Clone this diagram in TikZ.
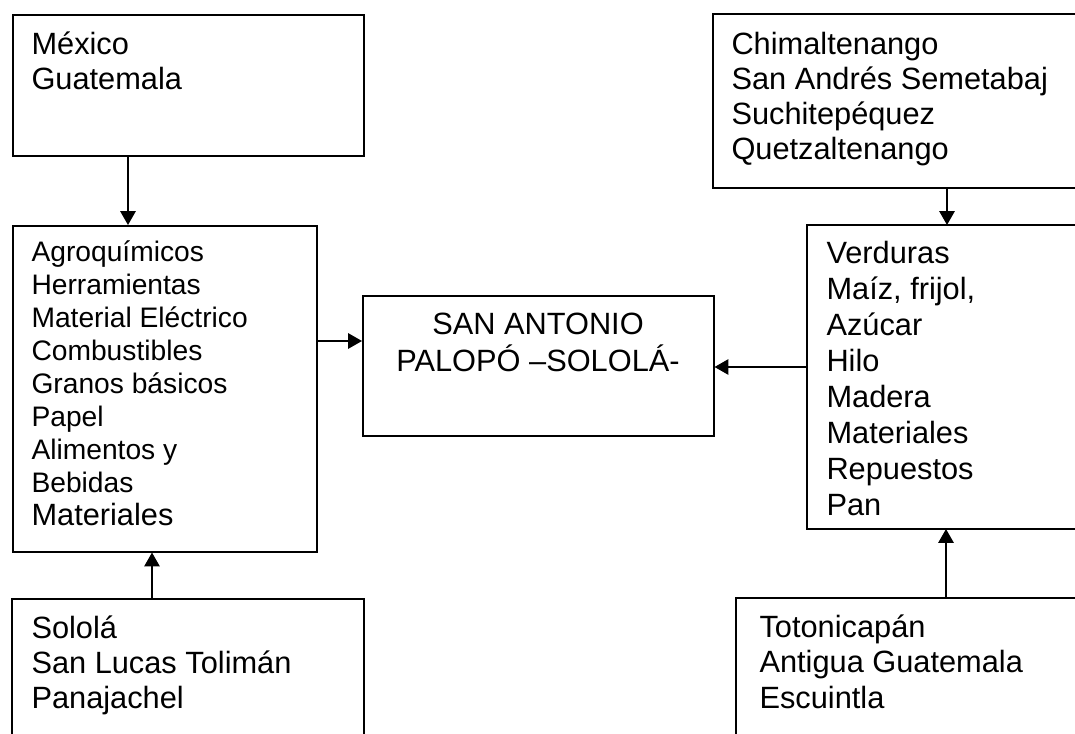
\documentclass[tikz,border=0pt]{standalone}
\usepackage{fontspec}
\setmainfont{Liberation Sans}
\usetikzlibrary{arrows.meta}
\newcommand\pxu{0.39pt}
\begin{document}
\begin{tikzpicture}[x=0.39pt,y=-0.39pt,
  box/.style={draw,line width=0.6pt,anchor=north west,inner sep=0pt},
  openbox/.style={anchor=north west,inner sep=0pt},
  edge/.style={line width=0.6pt},
  txt/.style={anchor=base west,inner sep=0pt},
  arr/.style={line width=0.6pt,-{Triangle[length=5.4pt,width=6pt]}}]
\useasboundingbox (0,0) rectangle (1075,733);
\fill[white] (0,0) rectangle (1075,733);
% boxes
\node[box,minimum width={351*\pxu},minimum height={141*\pxu}] (mex) at (12,14) {};
\node[box,minimum width={304*\pxu},minimum height={326*\pxu}] (agro) at (12,225) {};
\node[box,minimum width={351*\pxu},minimum height={140*\pxu}] (sap) at (362,295) {};
% boxes cut by the edges of the picture
\node[openbox,minimum width={351*\pxu},minimum height={134*\pxu}] (solo) at (12,599) {};
\node[openbox,minimum width={362*\pxu},minimum height={173*\pxu}] (chim) at (713,14) {};
\node[openbox,minimum width={268*\pxu},minimum height={303*\pxu}] (verd) at (807,225) {};
\node[openbox,minimum width={339*\pxu},minimum height={135*\pxu}] (toto) at (736,598) {};
\draw[edge] (solo.south west) -- (solo.north west) -- (solo.north east) -- (solo.south east);
\draw[edge] (chim.north east) -- (chim.north west) -- (chim.south west) -- (chim.south east);
\draw[edge] (verd.north east) -- (verd.north west) -- (verd.south west) -- (verd.south east);
\draw[edge] (toto.north east) -- (toto.north west) -- (toto.south west);
% texts
\node[txt,font=\fontsize{12}{13.65}\selectfont] (tmex) at (31,55)
  {\begin{tabular}[t]{@{}l@{}}México\\Guatemala\end{tabular}};
\node[txt,font=\fontsize{11}{12.83}\selectfont] (tagro) at (31,262)
  {\begin{tabular}[t]{@{}l@{}}Agroquímicos\\Herramientas\\Material Eléctrico\\Combustibles\\Granos básicos\\Papel\\Alimentos y\\Bebidas\\{\fontsize{12}{13.65}\selectfont Materiales}\end{tabular}};
\node[txt,font=\fontsize{12}{14.04}\selectfont,anchor=base] (tsap) at (538,334)
  {\begin{tabular}[t]{@{}c@{}}SAN ANTONIO\\PALOPÓ –SOLOLÁ-\end{tabular}};
\node[txt,font=\fontsize{12}{13.65}\selectfont] (tchim) at (731,55)
  {\begin{tabular}[t]{@{}l@{}}Chimaltenango\\San Andrés Semetabaj\\Suchitepéquez\\Quetzaltenango\end{tabular}};
\node[txt,font=\fontsize{12}{14}\selectfont] (tverd) at (826,264)
  {\begin{tabular}[t]{@{}l@{}}Verduras\\Maíz, frijol,\\Azúcar\\Hilo\\Madera\\Materiales\\Repuestos\\Pan\end{tabular}};
\node[txt,font=\fontsize{12}{13.65}\selectfont] (tsolo) at (31,638)
  {\begin{tabular}[t]{@{}l@{}}Sololá\\San Lucas Tolimán\\Panajachel\end{tabular}};
\node[txt,font=\fontsize{12}{13.85}\selectfont] (ttoto) at (759,637)
  {\begin{tabular}[t]{@{}l@{}}Totonicapán\\Antigua Guatemala\\Escuintla\end{tabular}};
% connector guides
\coordinate (g1) at (128,0);
\coordinate (g2) at (152,0);
\coordinate (g3) at (0,341);
\coordinate (g4) at (0,367);
\coordinate (g5) at (947,0);
\coordinate (g6) at (946,0);
% connectors
\draw[arr] (mex.south -| g1) -- (agro.north -| g1);
\draw[arr] (solo.north -| g2) -- (agro.south -| g2);
\draw[arr] (agro.east |- g3) -- (sap.west |- g3);
\draw[arr] (verd.west |- g4) -- (sap.east |- g4);
\draw[arr] (chim.south -| g5) -- (verd.north -| g5);
\draw[arr] (toto.north -| g6) -- (verd.south -| g6);
\end{tikzpicture}
\end{document}
